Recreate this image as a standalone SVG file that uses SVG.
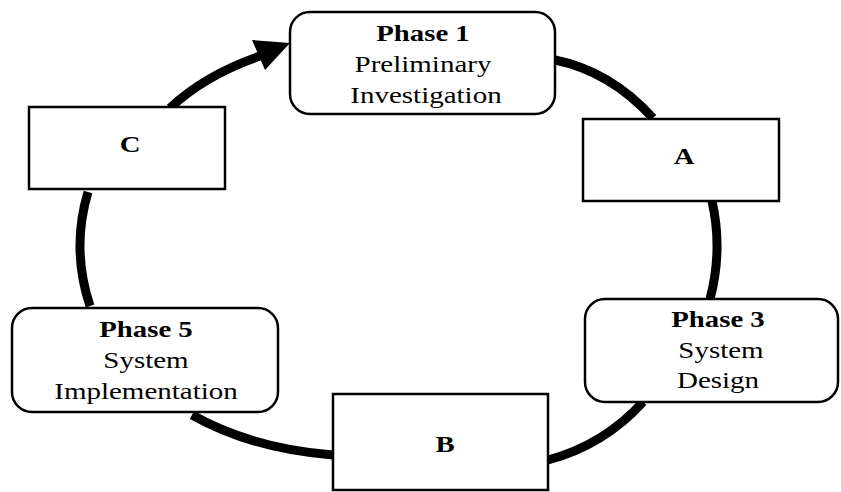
<svg xmlns="http://www.w3.org/2000/svg" width="841" height="492" viewBox="0 0 841 492">
<style>
.box{fill:#fff;stroke:#000;stroke-width:2.5}
.conn{fill:none;stroke:#000;stroke-width:9}
text{font-family:"Liberation Serif","Times New Roman",serif;font-size:23px;fill:#000;text-anchor:middle}
.b{font-weight:bold}
</style>
<rect width="841" height="492" fill="#fff"/>
<g id="connectors">
<path class="conn" d="M 88 192 Q 71 249 90 306"/>
<path class="conn" d="M 170 108 Q 205 75 260 56"/>
<polygon points="290,43 252,40 265,70" fill="#000"/>
<path class="conn" d="M 555 60 Q 610 71 653 118"/>
<path class="conn" d="M 712 201 Q 723 250 710 299"/>
<path class="conn" d="M 643 402 Q 604 445 548 460"/>
<path class="conn" d="M 192 415 Q 253 449 333 455"/>
</g>
<g id="phase1">
<rect class="box" x="290" y="12" width="265" height="102" rx="20"/>
<text class="b" transform="translate(423,41) scale(1.25,1)">Phase 1</text>
<text transform="translate(423,72) scale(1.26,1)">Preliminary</text>
<text transform="translate(426,103) scale(1.26,1)">Investigation</text>
</g>
<g id="A">
<rect class="box" x="583" y="119" width="196" height="82"/>
<text class="b" transform="translate(684,164) scale(1.25,1)">A</text>
</g>
<g id="phase3">
<rect class="box" x="585" y="299" width="253" height="103" rx="20"/>
<text class="b" transform="translate(718,327) scale(1.25,1)">Phase 3</text>
<text transform="translate(721,358) scale(1.26,1)">System</text>
<text transform="translate(718,388) scale(1.26,1)">Design</text>
</g>
<g id="B">
<rect class="box" x="333" y="394" width="215" height="96"/>
<text class="b" transform="translate(445,452) scale(1.25,1)">B</text>
</g>
<g id="phase5">
<rect class="box" x="12" y="308" width="266" height="104" rx="20"/>
<text class="b" transform="translate(146,337) scale(1.25,1)">Phase 5</text>
<text transform="translate(146,368) scale(1.26,1)">System</text>
<text transform="translate(146,399) scale(1.26,1)">Implementation</text>
</g>
<g id="C">
<rect class="box" x="29" y="107" width="196" height="82"/>
<text class="b" transform="translate(130,152) scale(1.25,1)">C</text>
</g>
</svg>
